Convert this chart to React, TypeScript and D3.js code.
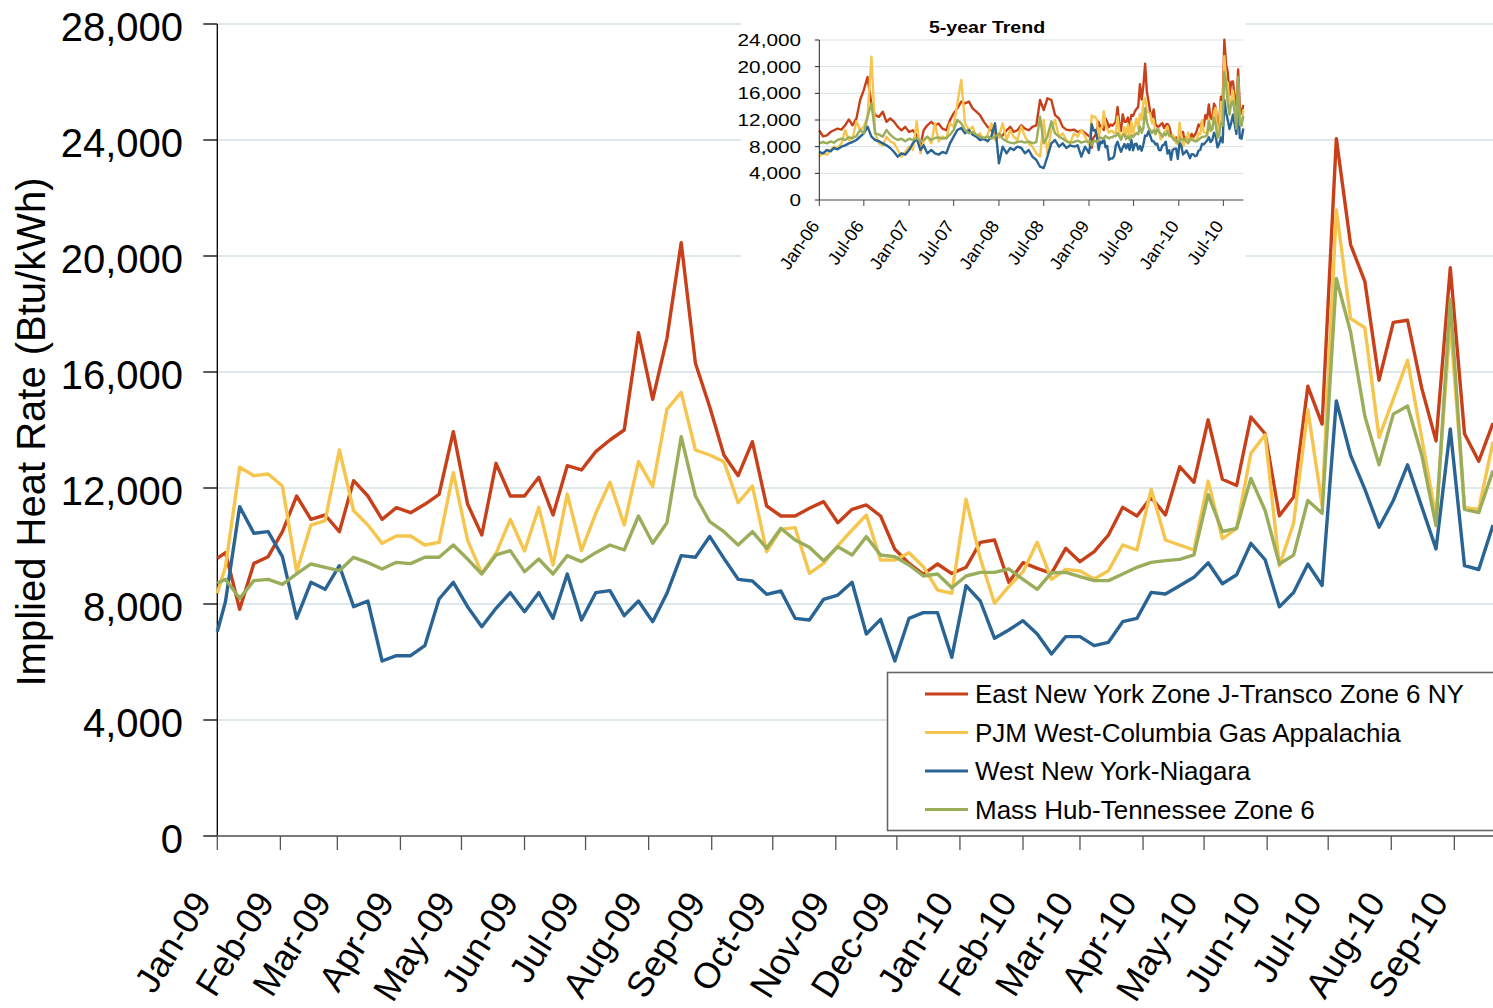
import React from 'react'
import * as d3 from 'd3'

// weekly implied heat rates (Btu/kWh), first point Jan 1 2009, then every Monday from Jan 5 2009 to Sep 20 2010
const eastNY = [
  9576, 9770, 7816, 9402, 9632, 10494, 11724, 10920, 11069, 10494, 12253, 11724, 10920, 11322, 11149, 11437,
  11782, 13942, 11450, 10379, 12851, 11724, 11724, 12368, 11069, 12770, 12621, 13253, 13655, 14000, 17356,
  15057, 17161, 20460, 16299, 14800, 13138, 12425, 13598, 11379, 11034, 11034, 11299, 11529, 10804, 11264,
  11414, 11034, 9885, 9402, 9023, 9380, 9050, 9265, 10127, 10207, 8748, 9425, 9230, 9058, 9920, 9460, 9805,
  10379, 11333, 11034, 11678, 11069, 12736, 12196, 14350, 12300, 12086, 14449, 13870, 11040, 11692, 15507,
  14203, 24049, 20394, 19126, 15717, 17711, 17785, 15434, 13624, 19594, 13870, 12923, 14240,
]
const pjmWest = [
  8368, 9287, 12713, 12425, 12483, 12069, 9115, 10724, 10874, 13310, 11218, 10724, 10092, 10345, 10345, 10034,
  10127, 12529, 10200, 9058, 9747, 10920, 9828, 11333, 9345, 11793, 9839, 11127, 12196, 10724, 12908, 12046,
  14713, 15300, 13310, 13138, 12908, 11494, 12069, 9805, 10575, 10632, 9058, 9402, 10011, 10552, 11069, 9517,
  9517, 9770, 9287, 8483, 8368, 11609, 9575, 8023, 8598, 9115, 10127, 8851, 9196, 9138, 8862, 9149, 10034,
  9862, 11954, 10207, 10034, 9862, 12240, 10250, 10609, 13194, 13834, 9317, 10794, 14695, 11409, 21588, 17846,
  17526, 13747, 15064, 16400, 13700, 11000, 17700, 11330, 11260, 13600,
]
const westNY = [
  7046, 8080, 11356, 10437, 10494, 9632, 7506, 8748, 8506, 9321, 7908, 8103, 6034, 6218, 6218, 6563, 8172,
  8748, 7908, 7218, 7851, 8391, 7736, 8391, 7506, 9035, 7448, 8391, 8460, 7598, 8103, 7391, 8368, 9667, 9610,
  10330, 9575, 8851, 8793, 8333, 8448, 7506, 7448, 8161, 8310, 8748, 6966, 7471, 6034, 7506, 7701, 7701, 6161,
  8632, 8103, 6816, 7103, 7425, 6966, 6276, 6874, 6874, 6563, 6678, 7391, 7506, 8402, 8345, 8632, 8920, 9420,
  8700, 9009, 10092, 9526, 7901, 8394, 9378, 8640, 15003, 13132, 11963, 10646, 11569, 12800, 11350, 9900,
  14040, 9320, 9190, 10720,
]
const massHub = [
  8713, 8851, 8195, 8805, 8851, 8679, 9035, 9380, 9265, 9149, 9610, 9425, 9207, 9437, 9391, 9610, 9610, 10034,
  9550, 9035, 9690, 9839, 9115, 9552, 9035, 9667, 9460, 9770, 10034, 9862, 11034, 10092, 10804, 13770, 11724,
  10839, 10494, 10034, 10494, 9920, 10609, 10207, 9954, 9494, 9977, 9690, 10322, 9690, 9632, 9345, 8966, 9035,
  8560, 8966, 9092, 9092, 9207, 8851, 8506, 9080, 9092, 8943, 8805, 8805, 9035, 9265, 9437, 9494, 9540, 9690,
  11770, 10500, 10609, 12332, 11224, 9378, 9686, 11569, 11126, 19225, 17378, 14486, 12800, 14548, 14830, 13132,
  10700, 18510, 11260, 11150, 12600,
]

// inset, 2006-2008 read twice a month (1st and 16th); 2009-2010 continues with the weekly values above
const eastNYEarly = [
  10460, 9550, 9700, 10200, 10460, 10710, 10560, 11200, 12080, 11200, 12230, 15000, 16520, 18440, 14250, 12730,
  12480, 13240, 11720, 12230, 11720, 10970, 10460, 10970,
  10200, 10460, 9700, 8190, 10460, 11200, 11720, 11200, 11470, 10710, 10460, 11980, 12990, 13740, 14760, 14500,
  14760, 13740, 13240, 12730, 11720, 10970, 10460, 9950,
  9450, 9700, 10460, 10970, 10200, 10460, 11200, 10710, 10460, 10970, 11200, 15000, 13490, 15260, 15000, 12730,
  12230, 10970, 10560, 10460, 10560, 10200, 10460, 10060,
]
const pjmWestEarly = [
  6500, 7000, 6800, 7500, 8000, 7800, 8500, 10500, 9000, 9200, 11800, 10500, 11000, 12500, 21500, 10000, 8500,
  8200, 9500, 8800, 8500, 7500, 6500, 7200,
  8000, 7500, 11800, 7000, 8800, 9500, 8500, 11500, 8800, 9500, 9200, 11500, 11000, 14500, 18000, 11500, 10500,
  11000, 9500, 10000, 9000, 9800, 11500, 9000,
  9500, 11500, 9000, 10500, 9500, 9000, 11000, 9500, 8500, 8000, 7000, 6500, 12000, 7000, 10500, 12000, 9500,
  10000, 9000, 8500, 10000, 9500, 10500, 9500,
]
const westNYEarly = [
  7200, 7000, 7500, 7300, 7800, 7600, 8000, 8200, 8500, 8700, 9000, 9500, 10000, 11000, 9500, 9000, 8800, 8500,
  8200, 7800, 7200, 6500, 7000, 6800,
  7500, 8500, 9200, 7500, 8200, 7000, 7500, 7000, 6800, 7200, 7000, 8500, 9500, 10500, 10800, 10000, 10500, 9800,
  9500, 9000, 9200, 8800, 9500, 11500,
  5500, 8000, 7000, 7800, 7500, 8000, 7800, 7000, 7500, 6500, 6000, 5000, 4800, 6500, 8500, 9000, 8000, 8500,
  7800, 8200, 8000, 8200, 6500, 8000,
]
const massHubEarly = [
  8500, 8700, 8500, 8800, 8600, 9000, 9200, 9000, 9400, 9300, 9600, 10500, 10000, 12500, 14500, 10000, 9800, 9500,
  10500, 9800, 9300, 9000, 9200, 8800,
  9200, 9000, 9300, 8800, 9000, 9500, 9000, 9300, 9400, 9200, 9300, 9800, 10500, 12000, 11500, 10500, 10000,
  10200, 9800, 9500, 9300, 9500, 9200, 9500,
  10000, 9200, 8800, 8600, 8500, 8700, 8800, 8600, 8800, 8500, 8700, 12500, 8500, 9500, 11800, 10000, 9500, 9200,
  8800, 8600, 8700, 8900, 8600, 8800,
]

const seriesNames = [
  'East New York Zone J-Transco Zone 6 NY',
  'PJM West-Columbia Gas Appalachia',
  'West New York-Niagara',
  'Mass Hub-Tennessee Zone 6',
]
const seriesColors = ['#c8401a', '#f5c54e', '#2a6494', '#9aad5b']
const yTicks = [0, 4000, 8000, 12000, 16000, 20000, 24000, 28000]
const insetTicks = [0, 4000, 8000, 12000, 16000, 20000, 24000]

const mainDates = [new Date(2009, 0, 1), ...d3.timeMonday.range(new Date(2009, 0, 5), new Date(2010, 8, 21))]
const earlyDates = d3
  .timeMonth.range(new Date(2006, 0, 1), new Date(2009, 0, 1))
  .flatMap(m => [m, new Date(m.getFullYear(), m.getMonth(), 16)])

const FONT = "'Liberation Sans', Arial, Helvetica, sans-serif"

export default function App() {
  const width = 1493,
    height = 1008

  // main chart scales
  const x = d3.scaleTime().domain([new Date(2009, 0, 1), new Date(2010, 8, 20)]).range([217.3, 1493])
  const y = d3.scaleLinear().domain([0, 28000]).range([836, 24])

  const main = [eastNY, pjmWest, westNY, massHub]
  const early = [eastNYEarly, pjmWestEarly, westNYEarly, massHubEarly]

  const line = d3
    .line<[Date, number]>()
    .x(d => x(d[0]))
    .y(d => y(d[1]))

  // inset scales
  const xi = d3.scaleTime().domain([new Date(2006, 0, 1), new Date(2010, 8, 20)]).range([819.3, 1243.3])
  const yi = d3.scaleLinear().domain([0, 24000]).range([200, 40])
  const lineInset = d3
    .line<[Date, number]>()
    .x(d => xi(d[0]))
    .y(d => yi(d[1]))

  const fmt = d3.format(',')
  const monthFmt = d3.timeFormat('%b-%y')
  const months = d3.timeMonth.range(new Date(2009, 0, 1), new Date(2010, 8, 21))
  const insetMonths = d3.timeMonth.every(6)!.range(new Date(2006, 0, 1), new Date(2010, 8, 21))

  return (
    <svg
      width={width}
      height={height}
      style={{ position: 'absolute', left: 0, top: 0, background: '#fff' }}
      fontFamily={FONT}
    >
      {/* gridlines */}
      {yTicks.slice(1).map(t => (
        <line key={t} x1={218} x2={1493} y1={y(t)} y2={y(t)} stroke="#d5e0e4" strokeWidth={1.4} />
      ))}

      {/* y axis */}
      <line x1={217.3} x2={217.3} y1={24} y2={836} stroke="#000" strokeWidth={1.3} />
      {yTicks.map(t => (
        <g key={t}>
          <line x1={203.3} x2={217.3} y1={y(t)} y2={y(t)} stroke="#000" strokeWidth={1.3} />
          <text x={183} y={y(t)} dy="0.42em" textAnchor="end" fontSize={40} fill="#000">
            {fmt(t)}
          </text>
        </g>
      ))}
      <text transform="translate(45, 432) rotate(-90)" textAnchor="middle" fontSize={40} fill="#000">
        Implied Heat Rate (Btu/kWh)
      </text>

      {/* x axis */}
      <line x1={217.3} x2={1493} y1={836} y2={836} stroke="#7a7a7a" strokeWidth={2} />
      {months.map((m, i) => (
        <g key={i}>
          <line x1={x(m)} x2={x(m)} y1={836} y2={850} stroke="#555" strokeWidth={1.3} />
          <text
            transform={`translate(${x(m) - 5}, 902) rotate(-58)`}
            textAnchor="end"
            fontSize={36}
            fill="#000"
          >
            {monthFmt(m)}
          </text>
        </g>
      ))}

      {/* series */}
      {main.map((s, i) => (
        <path
          key={i}
          d={line(s.map((v, j) => [mainDates[j], v]))!}
          fill="none"
          stroke={seriesColors[i]}
          strokeWidth={3.4}
          strokeLinejoin="round"
        />
      ))}

      {/* inset */}
      <rect x={741} y={4} width={505} height={288} fill="#fff" />
      <text
        transform="translate(987, 32.5) scale(1.15, 1)"
        textAnchor="middle"
        fontSize={17}
        fontWeight="bold"
        fill="#000"
      >
        5-year Trend
      </text>
      {insetTicks.slice(1).map(t => (
        <line key={t} x1={820} x2={1243.3} y1={yi(t)} y2={yi(t)} stroke="#d5e0e4" strokeWidth={1} />
      ))}
      {early.map((s, i) => (
        <path
          key={i}
          d={
            lineInset([
              ...s.map((v, j) => [earlyDates[j], v] as [Date, number]),
              ...main[i].map((v, j) => [mainDates[j], v] as [Date, number]),
            ])!
          }
          fill="none"
          stroke={seriesColors[i]}
          strokeWidth={2.4}
          strokeLinejoin="round"
        />
      ))}
      <line x1={819.3} x2={819.3} y1={40} y2={200} stroke="#222" strokeWidth={1} />
      <line x1={819.3} x2={1243.3} y1={200} y2={200} stroke="#444" strokeWidth={1.2} />
      {insetTicks.map(t => (
        <g key={t}>
          <line x1={815} x2={819.3} y1={yi(t)} y2={yi(t)} stroke="#222" strokeWidth={1} />
          <text
            transform={`translate(801, ${yi(t)}) scale(1.22, 1)`}
            dy="0.36em"
            textAnchor="end"
            fontSize={17}
            fill="#000"
          >
            {fmt(t)}
          </text>
        </g>
      ))}
      {insetMonths.map((m, i) => (
        <g key={i}>
          <line x1={xi(m)} x2={xi(m)} y1={200} y2={206} stroke="#444" strokeWidth={1} />
          <text
            transform={`translate(${xi(m) + 1}, 226) rotate(-55)`}
            textAnchor="end"
            fontSize={18}
            fill="#000"
          >
            {monthFmt(m)}
          </text>
        </g>
      ))}

      {/* legend */}
      <rect x={887.5} y={672.5} width={620} height={158} fill="#fff" stroke="#666" strokeWidth={1.6} />
      {seriesNames.map((n, i) => (
        <g key={n} transform={`translate(0, ${694 + i * 38.5})`}>
          <line x1={925} x2={968} y1={0} y2={0} stroke={seriesColors[i]} strokeWidth={3} />
          <text x={975} y={0} dy="0.36em" fontSize={26} fill="#000">
            {n}
          </text>
        </g>
      ))}
    </svg>
  )
}
